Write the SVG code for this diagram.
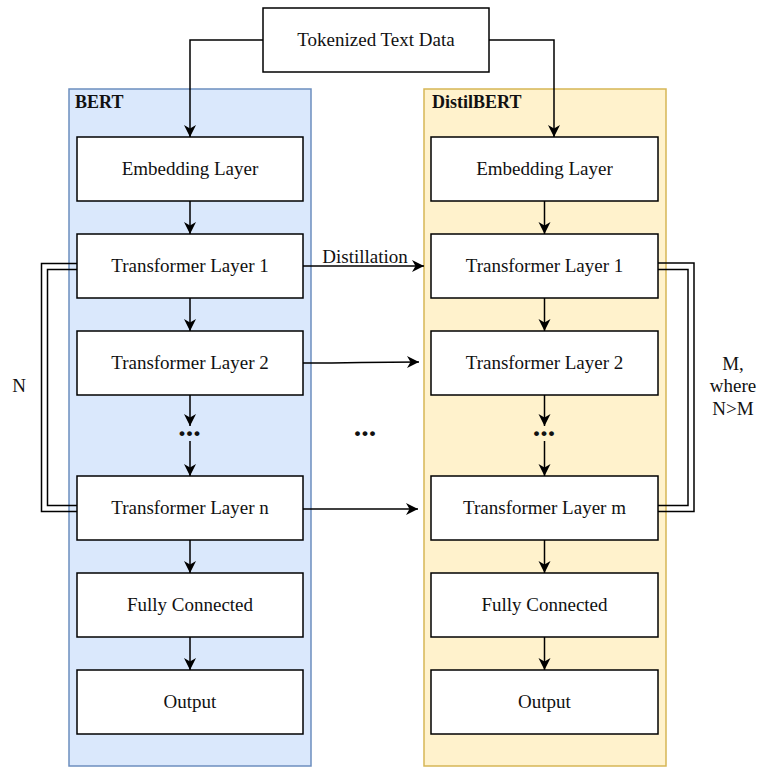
<svg xmlns="http://www.w3.org/2000/svg" width="758" height="767" viewBox="0 0 758 767">
  <defs>
    <marker id="arrow" markerUnits="userSpaceOnUse" viewBox="-13 -7 14 14" refX="0" refY="0" markerWidth="14" markerHeight="14" orient="auto">
      <path d="M0,0 L-12,-6 L-8.5,0 L-12,6 Z" fill="#000"/>
    </marker>
    <style>
      .container-blue { fill: #dae8fc; stroke: #6c8ebf; stroke-width: 1.5; }
      .container-yellow { fill: #fff2cc; stroke: #d6b656; stroke-width: 1.5; }
      .box { fill: #ffffff; stroke: #000; stroke-width: 1.5; }
      .label { font-family: "Liberation Serif", "Times New Roman", serif; font-size: 19px; fill: #111; text-anchor: middle; }
      .title { font-family: "Liberation Serif", "Times New Roman", serif; font-size: 18px; font-weight: bold; fill: #111; }
      .dots { font-family: "Liberation Serif", "Times New Roman", serif; font-size: 30px; font-weight: bold; fill: #111; text-anchor: middle; }
      .edge { fill: none; stroke: #000; stroke-width: 1.5; }
      .arrow { marker-end: url(#arrow); }
    </style>
  </defs>

  <!-- model containers -->
  <g id="bert-container">
    <rect class="container-blue" x="69" y="89" width="242" height="677"/>
    <text class="title" x="75" y="108">BERT</text>
  </g>
  <g id="distilbert-container">
    <rect class="container-yellow" x="424" y="89" width="242" height="677"/>
    <text class="title" x="432" y="108">DistilBERT</text>
  </g>

  <!-- input -->
  <g id="tokenized-data">
    <rect class="box" x="263" y="8" width="226" height="64"/>
    <text class="label" x="376" y="46">Tokenized Text Data</text>
  </g>

  <!-- BERT layers -->
  <g id="bert-embedding">
    <rect class="box" x="77" y="137" width="226" height="64"/>
    <text class="label" x="190" y="175">Embedding Layer</text>
  </g>
  <g id="bert-transformer-1">
    <rect class="box" x="77" y="234" width="226" height="64"/>
    <text class="label" x="190" y="272">Transformer Layer 1</text>
  </g>
  <g id="bert-transformer-2">
    <rect class="box" x="77" y="331" width="226" height="64"/>
    <text class="label" x="190" y="369">Transformer Layer 2</text>
  </g>
  <g id="bert-transformer-n">
    <rect class="box" x="77" y="476" width="226" height="64"/>
    <text class="label" x="190" y="514">Transformer Layer n</text>
  </g>
  <g id="bert-fully-connected">
    <rect class="box" x="77" y="573" width="226" height="64"/>
    <text class="label" x="190" y="611">Fully Connected</text>
  </g>
  <g id="bert-output">
    <rect class="box" x="77" y="670" width="226" height="64"/>
    <text class="label" x="190" y="708">Output</text>
  </g>

  <!-- DistilBERT layers -->
  <g id="distil-embedding">
    <rect class="box" x="431" y="137" width="227" height="64"/>
    <text class="label" x="544.5" y="175">Embedding Layer</text>
  </g>
  <g id="distil-transformer-1">
    <rect class="box" x="431" y="234" width="227" height="64"/>
    <text class="label" x="544.5" y="272">Transformer Layer 1</text>
  </g>
  <g id="distil-transformer-2">
    <rect class="box" x="431" y="331" width="227" height="64"/>
    <text class="label" x="544.5" y="369">Transformer Layer 2</text>
  </g>
  <g id="distil-transformer-m">
    <rect class="box" x="431" y="476" width="227" height="64"/>
    <text class="label" x="544.5" y="514">Transformer Layer m</text>
  </g>
  <g id="distil-fully-connected">
    <rect class="box" x="431" y="573" width="227" height="64"/>
    <text class="label" x="544.5" y="611">Fully Connected</text>
  </g>
  <g id="distil-output">
    <rect class="box" x="431" y="670" width="227" height="64"/>
    <text class="label" x="544.5" y="708">Output</text>
  </g>

  <!-- connectors -->
  <g id="connectors">
    <!-- input to both models -->
    <path class="edge arrow" d="M263,40 H190 V137"/>
    <path class="edge arrow" d="M489,40 H554 V137"/>

    <!-- BERT stack -->
    <path class="edge arrow" d="M190,201 V234"/>
    <path class="edge arrow" d="M190,298 V331"/>
    <path class="edge arrow" d="M190,395 V426"/>
    <path class="edge arrow" d="M190,441 V476"/>
    <path class="edge arrow" d="M190,540 V573"/>
    <path class="edge arrow" d="M190,637 V670"/>

    <!-- DistilBERT stack -->
    <path class="edge arrow" d="M544.5,201 V234"/>
    <path class="edge arrow" d="M544.5,298 V331"/>
    <path class="edge arrow" d="M544.5,395 V426"/>
    <path class="edge arrow" d="M544.5,441 V476"/>
    <path class="edge arrow" d="M544.5,540 V573"/>
    <path class="edge arrow" d="M544.5,637 V670"/>

    <!-- distillation links -->
    <path class="edge arrow" d="M303,266 H424"/>
    <path class="edge arrow" d="M303,363 C360,363 362,362 419,362"/>
    <path class="edge arrow" d="M303,509 H418"/>

    <!-- layer-count brackets (double lines) -->
    <path class="edge" d="M77,263.5 H41.5 V511.5 H77"/>
    <path class="edge" d="M77,269.5 H47.5 V505.5 H77"/>
    <path class="edge" d="M658,263 H694 V511.5 H658"/>
    <path class="edge" d="M658,269.5 H688 V505.5 H658"/>
  </g>

  <!-- labels -->
  <g id="labels">
    <text class="label" x="365" y="263">Distillation</text>
    <text class="dots" x="189.5" y="436">...</text>
    <text class="dots" x="544" y="436">...</text>
    <text class="dots" x="365" y="436">...</text>
    <text class="label" x="19" y="392">N</text>
    <text class="label" x="733" y="370">M,</text>
    <text class="label" x="733" y="392">where</text>
    <text class="label" x="733" y="415">N&gt;M</text>
  </g>
</svg>
